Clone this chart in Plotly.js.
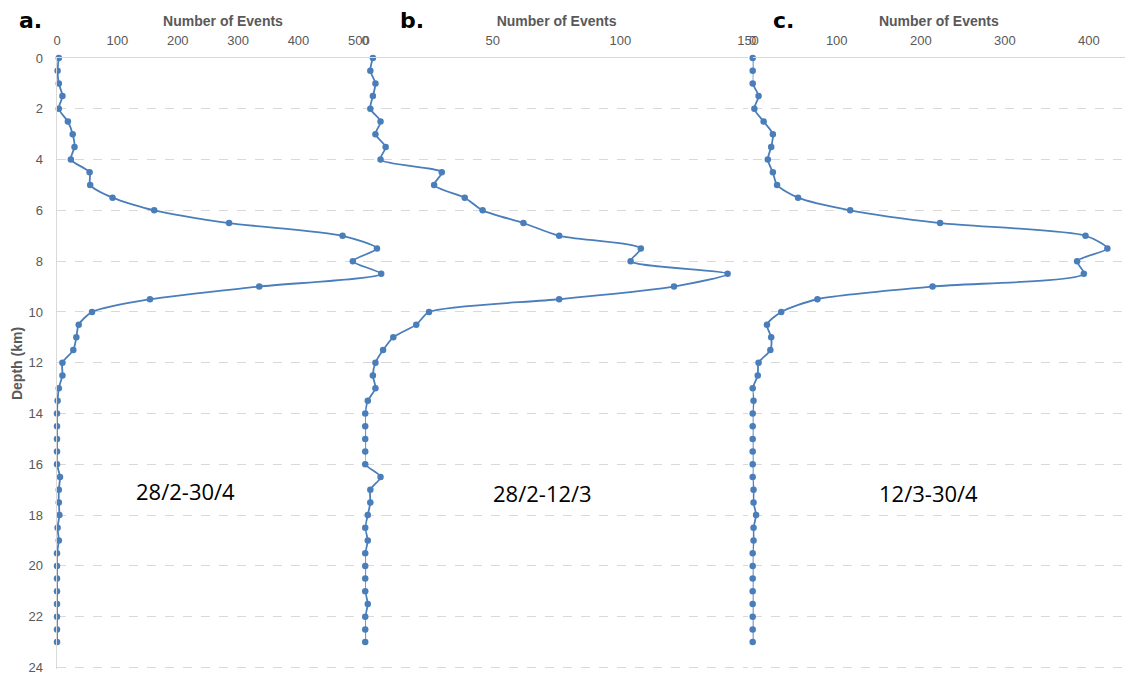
<!DOCTYPE html>
<html>
<head>
<meta charset="utf-8">
<script src="https://cdn.plot.ly/plotly-3.0.1.min.js"></script>
<style>
  html, body { margin: 0; padding: 0; background: #ffffff; }
  #chart { width: 1125px; height: 675px; }
</style>
</head>
<body>
<div id="chart"></div>
<script>
// Depth bins (km), every 0.5 km
const depthKm = [0, 0.5, 1, 1.5, 2, 2.5, 3, 3.5, 4, 4.5, 5, 5.5, 6, 6.5, 7, 7.5, 8, 8.5, 9, 9.5,
  10, 10.5, 11, 11.5, 12, 12.5, 13, 13.5, 14, 14.5, 15, 15.5, 16, 16.5, 17, 17.5, 18, 18.5, 19, 19.5,
  20, 20.5, 21, 21.5, 22, 22.5, 23];

// Number of events per depth bin, one series per period
const eventsFullPeriod = [3, 1, 3, 9, 3, 18, 26, 29, 23, 54, 55, 92, 161, 285, 473, 530, 490, 537, 335, 154,
  58, 36, 32, 27, 9, 9, 3, 1, 0, 0, 0, 0, 0, 5, 3, 3, 4, 1, 3, 0,
  0, 0, 0, 0, 0, 0, 0];
const eventsEarlyPeriod = [3, 2, 4, 3, 2, 6, 4, 8, 6, 30, 27, 39, 46, 62, 76, 108, 104, 142, 121, 76,
  25, 20, 11, 7, 4, 3, 4, 1, 0, 0, 0, 0, 0, 6, 2, 2, 1, 0, 1, 0,
  0, 0, 0, 1, 0, 0, 0];
const eventsLatePeriod = [0, 0, 0, 7, 2, 13, 24, 22, 18, 24, 29, 54, 116, 223, 396, 422, 386, 394, 214, 77,
  34, 17, 22, 21, 7, 6, 0, 1, 0, 0, 0, 0, 0, 0, 1, 1, 4, 1, 1, 0,
  0, 0, 0, 0, 0, 0, 0];

const periodLabels = ['28/2-30/4', '28/2-12/3', '12/3-30/4'];
const panelLetters = ['a.', 'b.', 'c.'];
const depthTicks = [0, 2, 4, 6, 8, 10, 12, 14, 16, 18, 20, 22, 24];
const ticksA = [0, 100, 200, 300, 400, 500];
const ticksB = [0, 50, 100, 150];
const ticksC = [0, 100, 200, 300, 400];

const blue = '#4a7ebb';
const grey = '#595959';
const tickFont = { family: 'Liberation Sans, Arial, sans-serif', size: 13, color: grey };
const titleFont = { family: 'Liberation Sans, Arial, sans-serif', size: 14, color: grey, weight: 'bold' };

function profile(xs, xa) {
  return {
    x: xs, y: depthKm, xaxis: xa, yaxis: 'y',
    type: 'scatter', mode: 'lines+markers', cliponaxis: false,
    line: { color: blue, width: 1.8, shape: 'spline', smoothing: 0.7 },
    marker: { color: blue, size: 6.5 },
    hoverinfo: 'x+y', showlegend: false
  };
}

const data = [
  profile(eventsFullPeriod, 'x'),
  profile(eventsEarlyPeriod, 'x2'),
  profile(eventsLatePeriod, 'x3')
];

function topAxis(domain, range, tickvals) {
  return {
    domain: domain, range: range, anchor: 'y', side: 'top',
    tickvals: tickvals, ticks: '', tickfont: tickFont, ticklabelstandoff: 6,
    showline: true, linecolor: '#d9d9d9', linewidth: 1.5,
    showgrid: false, zeroline: false, fixedrange: true,
    title: { text: 'Number of Events', font: titleFont, standoff: 3 }
  };
}

const layout = {
  width: 1125, height: 675,
  margin: { l: 57, r: 0, t: 58, b: 6 },
  paper_bgcolor: '#ffffff', plot_bgcolor: 'rgba(0,0,0,0)',
  xaxis: topAxis([0, 0.3109], [0, 550], ticksA),
  xaxis2: topAxis([0.2886, 0.6470], [0, 150], ticksB),
  xaxis3: topAxis([0.6514, 1], [0, 443], ticksC),
  yaxis: {
    range: [24.06, 0], anchor: 'x',
    tickvals: depthTicks, ticks: '', tickfont: tickFont, ticklabelstandoff: 10,
    ticklabeloverflow: 'allow',
    showline: true, linecolor: '#d9d9d9', linewidth: 1.5,
    showgrid: true, gridcolor: '#d9d9d9', gridwidth: 1, griddash: 'dash',
    zeroline: false, fixedrange: true,
    title: { text: 'Depth (km)', font: titleFont, standoff: 2 }
  },
  annotations: [
    { text: periodLabels[0], x: 185, y: 491 },
    { text: periodLabels[1], x: 542, y: 493 },
    { text: periodLabels[2], x: 928, y: 493 }
  ].map(a => ({
    text: a.text, xref: 'paper', yref: 'paper',
    x: (a.x - 57) / 1068, y: 1 - (a.y - 58) / 611,
    xanchor: 'center', yanchor: 'middle', showarrow: false,
    font: { family: 'Open Sans, Noto Sans, sans-serif', size: 22, color: '#000000' }
  })).concat([
    { text: panelLetters[0], x: 30 },
    { text: panelLetters[1], x: 412 },
    { text: panelLetters[2], x: 783 }
  ].map(a => ({
    text: a.text, xref: 'paper', yref: 'paper',
    x: (a.x - 57) / 1068, y: 1 + (58 - 20) / 611,
    xanchor: 'center', yanchor: 'middle', showarrow: false,
    font: { family: 'DejaVu Sans, sans-serif', size: 22, color: '#000000', weight: 'bold' }
  })))
};

Plotly.newPlot('chart', data, layout, { displayModeBar: false, staticPlot: true });
</script>
</body>
</html>
